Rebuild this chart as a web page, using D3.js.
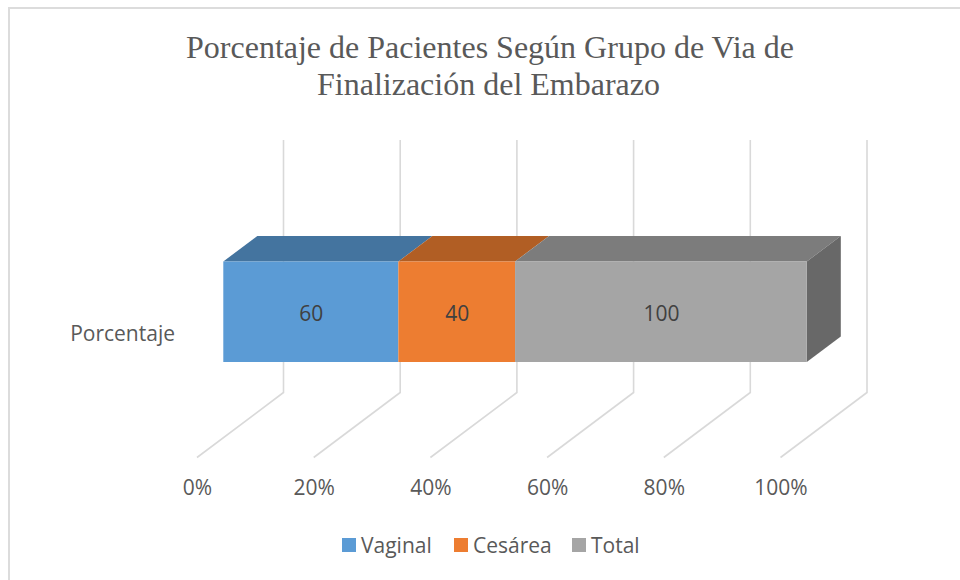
<!DOCTYPE html>
<html><head><meta charset="utf-8">
<script src="https://cdn.jsdelivr.net/npm/d3@7"></script>
<style>html,body{margin:0;padding:0;background:#fff}svg{display:block}</style></head>
<body><svg id="c" width="960" height="580"></svg>
<script>
const titleLines=["Porcentaje de Pacientes Según Grupo de Via de","Finalización del Embarazo"];
const category=["Porcentaje"];
const seriesNames=["Vaginal","Cesárea","Total"];
const vaginal=[60];
const cesarea=[40];
const total=[100];
const tickValues=[0,0.2,0.4,0.6,0.8,1];
const front=["#5b9bd5","#ed7d31","#a5a5a5"];
const top_=["#44749f","#b15e24","#7c7c7c"];
const sideColor="#686868";

const svg=d3.select("#c");
svg.append("path").attr("d","M9,580V8H960").attr("fill","none").attr("stroke","#dcdcdc").attr("stroke-width",2);

const t=svg.append("g").attr("font-family","'Liberation Serif',serif").attr("font-size",32).attr("fill","#595959").attr("text-anchor","middle");
titleLines.forEach((s,i)=>t.append("text").attr("x",[490,488.5][i]).attr("y",[58,95][i]).text(s));

const rows=category.map((c,i)=>({c,Vaginal:vaginal[i],"Cesárea":cesarea[i],Total:total[i]}));
const stack=d3.stack().keys(seriesNames).offset(d3.stackOffsetExpand)(rows);

// floor-plane x scale (front edge of the 3D floor)
const x=d3.scaleLinear().domain([0,1]).range([197,780.5]);
const y=d3.scaleBand().domain(category).range([261.5,362]);
const wall=[86.5,-65],bar1=[26.3,-19.5],bar2=[60.3,-45];
const floorY=457.5;
const wallTop=140;

const grid=svg.append("g").attr("fill","none").attr("stroke","#d9d9d9").attr("stroke-width",1.6);
tickValues.forEach(v=>{
  const p=d3.path();
  p.moveTo(x(v),floorY);
  p.lineTo(x(v)+wall[0],floorY+wall[1]);
  p.lineTo(x(v)+wall[0],wallTop);
  grid.append("path").attr("d",p.toString());
});

const axis=d3.axisBottom(x).tickValues(tickValues).tickFormat(d3.format(".0%")).tickSize(0).tickPadding(0);
const ax=svg.append("g").attr("transform","translate(0,480)").call(axis);
ax.select(".domain").remove();
ax.selectAll("text").attr("font-family","'Open Sans',sans-serif").attr("font-size",21).attr("fill","#595959").attr("dy","0.71em");

const y0=y(category[0]),h=y.bandwidth();
const dx=bar2[0]-bar1[0],dy=bar2[1]-bar1[1];
const poly=pts=>"M"+pts.map(p=>p.join(",")).join("L")+"Z";
const bars=svg.append("g");
stack.forEach((s,i)=>{
  const a=x(s[0][0])+bar1[0],b=x(s[0][1])+bar1[0];
  bars.append("path").attr("d",poly([[a,y0],[b,y0],[b+dx,y0+dy],[a+dx,y0+dy]])).attr("fill",top_[i]);
});
const last=stack[stack.length-1][0];
const e=x(last[1])+bar1[0];
bars.append("path").attr("d",poly([[e,y0],[e+dx,y0+dy],[e+dx,y0+h+dy],[e,y0+h]])).attr("fill",sideColor);
stack.forEach((s,i)=>{
  const a=x(s[0][0])+bar1[0],b=x(s[0][1])+bar1[0];
  bars.append("rect").attr("x",a).attr("y",y0).attr("width",b-a).attr("height",h).attr("fill",front[i]);
  bars.append("text").attr("x",(a+b)/2+0.5).attr("y",y0+h/2+9).attr("text-anchor","middle")
    .attr("font-family","'Open Sans',sans-serif").attr("font-size",21).attr("fill","#404040").text(s[0].data[s.key]);
});

svg.append("text").attr("x",175).attr("y",341).attr("text-anchor","end")
  .attr("font-family","'Open Sans',sans-serif").attr("font-size",21).attr("fill","#595959").text(category[0]);

const legX=[342,454,572];
const lg=svg.append("g");
seriesNames.forEach((n,i)=>{
  lg.append("rect").attr("x",legX[i]).attr("y",538).attr("width",14).attr("height",14).attr("fill",front[i]);
  lg.append("text").attr("x",legX[i]+19).attr("y",552.5).attr("font-family","'Open Sans',sans-serif").attr("font-size",21).attr("fill","#595959").text(n);
});
</script></body></html>
